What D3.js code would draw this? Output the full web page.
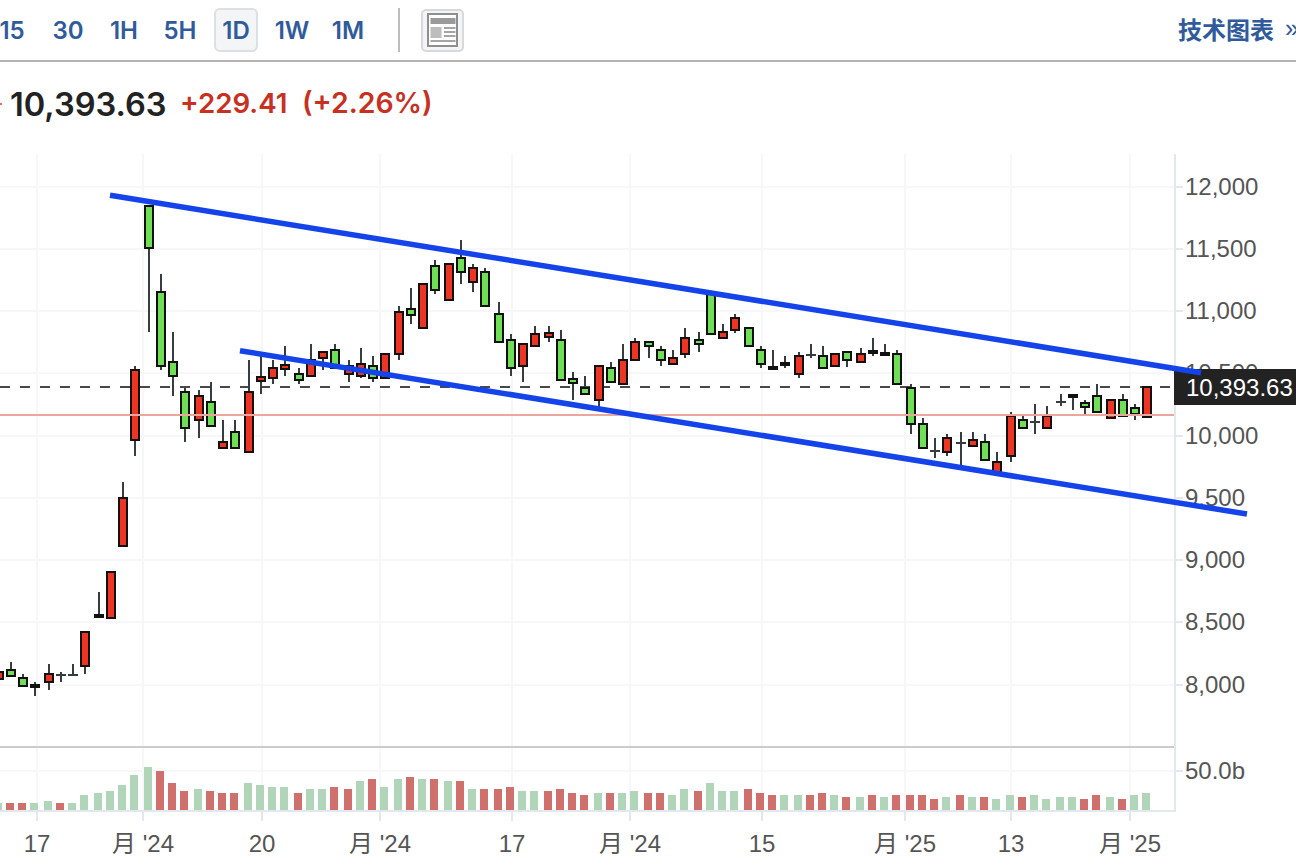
<!DOCTYPE html>
<html>
<head>
<meta charset="utf-8">
<style>
  html, body { margin: 0; padding: 0; background: #fff; overflow: hidden; }
  svg { display: block; font-family: "Liberation Sans", "Noto Sans CJK SC", sans-serif; }
</style>
<script src="https://cdn.jsdelivr.net/npm/d3@7/dist/d3.min.js"></script>
</head>
<body>
<div id="chart"></div>
<script>
// candles, oldest first (red = up, green = down)
var opens = [8046,8118,8054,7998,8022,8078,8078,8150,8560,8536,9114,9965,11845,11154,10592,10351,10126,10271,9901,10030,
  9869,10439,10464,10536,10496,10480,10624,10688,10496,10480,10560,10464,10656,11018,10865,11363,11090,11427,11235,11315,
  10978,10769,10560,10720,10793,10769,10455,10383,10287,10544,10415,10608,10753,10688,10576,10656,10769,11138,10785,10849,
  10865,10688,10552,10584,10496,10648,10640,10560,10672,10592,10680,10664,10656,10383,10094,9877,9869,9941,9917,9949,
  9708,9837,10126,10110,10062,10271,10327,10263,10319,10142,10287,10223,10150];
var highs = [8126,8182,8086,8022,8166,8102,8166,8423,8745,8905,9628,10560,11845,11299,10833,10383,10367,10431,10126,10126,
  10608,10640,10608,10720,10544,10737,10672,10737,10608,10704,10640,10656,11042,11186,11218,11411,11379,11572,11379,11347,
  11074,10817,10737,10881,10881,10849,10512,10480,10560,10592,10737,10785,10753,10720,10688,10865,10833,11138,10897,10978,
  10865,10720,10688,10640,10672,10737,10720,10656,10672,10704,10785,10737,10688,10415,10142,9982,10014,10030,10030,10014,
  9869,10190,10158,10255,10239,10335,10327,10287,10415,10287,10335,10255,10393.63];
var lows = [8038,8070,7990,7909,7957,8022,8078,8086,8544,8536,9114,9837,10833,10528,10319,9949,9982,10070,9901,9901,
  9869,10335,10415,10480,10415,10480,10528,10544,10431,10464,10431,10464,10608,10897,10865,11138,11090,11218,11154,11042,
  10753,10480,10431,10720,10753,10447,10287,10335,10231,10431,10415,10608,10624,10560,10576,10624,10672,10817,10785,10825,
  10720,10544,10536,10544,10464,10624,10544,10560,10552,10592,10640,10648,10415,10014,9901,9821,9837,9765,9917,9805,
  9700,9789,10062,10014,10062,10239,10206,10174,10190,10142,10158,10126,10150];
var closes = [8102,8070,7990,7982,8086,8078,8078,8423,8544,8905,9500,10528,11508,10560,10480,10062,10319,10078,9949,9901,
  10351,10472,10544,10568,10447,10608,10672,10544,10560,10576,10464,10656,10994,10970,11218,11170,11379,11315,11347,11042,
  10753,10544,10737,10817,10825,10447,10423,10335,10560,10431,10608,10753,10720,10608,10624,10785,10737,10817,10833,10945,
  10720,10576,10536,10568,10640,10648,10544,10656,10608,10656,10664,10648,10415,10094,9901,9877,9982,9941,9965,9805,
  9789,10158,10062,10110,10158,10271,10311,10231,10190,10287,10158,10174,10393.63];

// volume in billions, 1 = red bar, 0 = green bar
var volumes = [8.9,8.9,8.9,8.9,11.4,8.9,8.9,19.1,21.6,24.2,31.8,44.5,54.7,49.6,34.3,24.2,26.7,24.2,21.6,21.6,
  34.3,31.8,29.3,29.3,21.6,26.7,26.7,29.3,26.7,36.9,39.4,29.3,39.4,42,39.4,39.4,36.9,36.9,26.7,26.7,
  26.7,29.3,24.2,24.2,24.2,26.7,21.6,19.1,21.6,21.6,21.6,24.2,21.6,21.6,19.1,26.7,24.2,34.3,24.2,24.2,
  26.7,21.6,19.1,19.1,19.1,19.1,21.6,19.1,16.5,16.5,19.1,16.5,19.1,19.1,19.1,14,16.5,19.1,16.5,16.5,
  14,19.1,16.5,19.1,14,16.5,16.5,14,19.1,16.5,14,19.1,21.6];
var volumeUp = [0,1,1,0,0,1,0,0,0,0,0,0,0,1,1,1,0,1,1,1,
  0,0,0,0,1,0,0,1,1,0,1,0,0,1,0,1,0,1,0,1,
  1,1,0,0,1,1,1,1,0,1,0,0,1,1,0,0,1,0,0,0,
  1,1,1,0,0,1,1,0,1,0,1,0,1,1,1,1,0,1,0,1,
  0,0,1,0,0,0,0,1,1,0,1,0,0];

var priceTicks = [8000,8500,9000,9500,10000,10500,11000,11500,12000];
var timeTickIndex = [3,11.5,21,30.5,41,50.5,61,72.5,81,90.5];
var timeTickLabels = ['17',"月 '24",'20',"月 '24",'17',"月 '24",'15',"月 '25",'13',"月 '25"];
var volumeTicks = [50];

var lastPrice = 10393.63, prevClose = 10164.22;

// hand drawn channel: [candle index, price]
var upperTrend = [[8.86,11931],[96.17,10506]];
var lowerTrend = [[19.26,10683],[99.85,9371]];

var intervals = [['15',12],['30',68],['1H',124],['5H',180],['1D',236],['1W',292],['1M',348]];

var width = 1296, height = 868;
var plotRight = 1175, plotTop = 154, volBase = 810;

var svg = d3.select('#chart').append('svg')
  .attr('width', width)
  .attr('height', height);

// ---- scales
var x = d3.scaleLinear().domain([0,92]).range([0.33,1149.87]);
// bars snap to even pixels like the source does
function cx(i) { return 2 * Math.floor(x(i) / 2) - 1; }
var xLine = function(i) { return x(i) - 1; };
var xTick = d3.scaleLinear().domain([0,92]).range([-0.67,1148.87]).interpolate(d3.interpolateRound);

var y = d3.scaleLinear().domain([8000,12000]).range([684.7,186.7]);
var yTick = y.copy().interpolate(d3.interpolateRound);
var yVol = d3.scaleLinear().domain([0,50]).range([volBase,770.7]);
var yVolTick = yVol.copy().interpolate(d3.interpolateRound);

var gridColor = '#f7f7f9', axisColor = '#e4e7ee', wickColor = '#363c40';

// ---- toolbar
var bar = svg.append('g');
bar.append('rect').attr('x',215).attr('y',9).attr('width',42).attr('height',42).attr('rx',5)
  .attr('fill','#f4f5f7').attr('stroke','#dcdfe3').attr('stroke-width',2);
bar.selectAll('text.iv').data(intervals).enter().append('text')
  .attr('class','iv')
  .attr('x', function(d) { return d[1]; })
  .attr('y', 39)
  .attr('text-anchor','middle')
  .attr('font-size',24)
  .attr('font-weight',600)
  .attr('font-family','Inter')
  .attr('fill','#2f5b9c')
  .text(function(d) { return d[0]; });
bar.append('rect').attr('x',398).attr('y',8).attr('width',2).attr('height',44).attr('fill','#bdbdbd');

// layout icon
var icon = bar.append('g').attr('transform','translate(421,9)');
icon.append('rect').attr('x',1).attr('y',1).attr('width',41).attr('height',41).attr('rx',4)
  .attr('fill','#f4f5f7').attr('stroke','#d9d9d9').attr('stroke-width',2);
icon.append('rect').attr('x',7).attr('y',5).attr('width',29).attr('height',32)
  .attr('fill','#fff').attr('stroke','#8f8f8f').attr('stroke-width',2);
icon.append('rect').attr('x',9.5).attr('y',9).attr('width',25).attr('height',6).attr('fill','#9a9a9a');
icon.append('rect').attr('x',9.5).attr('y',18).attr('width',11).attr('height',11).attr('fill','#bdbdbd');
[18,22,26,31].forEach(function(v, k) {
  icon.append('rect').attr('x',k < 3 ? 23 : 9.5).attr('y',v)
    .attr('width',k < 3 ? 11.5 : 25).attr('height',2).attr('fill','#a5a5a5');
});

bar.append('text').attr('x',1178).attr('y',39).attr('font-size',24).attr('font-weight',700)
  .attr('fill','#2f5b9c').attr('font-family','"Noto Sans CJK SC"').text('技术图表');
bar.append('text').attr('x',1285).attr('y',37).attr('font-size',25)
  .attr('fill','#2f5b9c').text('»');
bar.append('rect').attr('x',0).attr('y',60).attr('width',width).attr('height',2).attr('fill','#b4b4b4');

// ---- quote line
svg.append('rect').attr('x',0).attr('y',103).attr('width',2).attr('height',2).attr('fill','#d8705f');
svg.append('text').attr('x',10).attr('y',116).attr('font-size',32.6).attr('font-weight',600)
  .attr('font-family','Inter').attr('fill','#222').text('10,393.63');
svg.append('text').attr('x',180).attr('y',113).attr('font-size',27.7).attr('font-weight',600)
  .attr('font-family','Inter').attr('fill','#c8301f').text('+229.41');
svg.append('text').attr('x',302).attr('y',113).attr('font-size',28.4).attr('font-weight',600)
  .attr('font-family','Inter').attr('fill','#c8301f').text('(+2.26%)');

// ---- grid
var grid = svg.append('g');
grid.selectAll('rect.gx').data(timeTickIndex).enter().append('rect')
  .attr('class','gx')
  .attr('x', function(d) { return xTick(d) - 1; })
  .attr('y', plotTop).attr('width',2).attr('height',volBase - plotTop)
  .attr('fill',gridColor);
grid.selectAll('rect.gy').data(priceTicks).enter().append('rect')
  .attr('class','gy')
  .attr('x',0).attr('y', function(d) { return yTick(d) - 1; })
  .attr('width',plotRight).attr('height',2)
  .attr('fill',gridColor);
grid.selectAll('rect.gv').data(volumeTicks).enter().append('rect')
  .attr('class','gv')
  .attr('x',0).attr('y', function(d) { return yVolTick(d) - 1; })
  .attr('width',plotRight).attr('height',2)
  .attr('fill',gridColor);

// ---- last price dashed line, behind the candles
svg.append('line')
  .attr('x1',0).attr('x2',1170)
  .attr('y1',Math.round(y(lastPrice))).attr('y2',Math.round(y(lastPrice)))
  .attr('stroke','#484848').attr('stroke-width',2).attr('stroke-dasharray','10,10');

// ---- candles
var candles = d3.range(opens.length);
var g = svg.append('g');
g.selectAll('line.wick').data(candles).enter().append('line')
  .attr('class','wick')
  .attr('x1',cx).attr('x2',cx)
  .attr('y1', function(i) { return Math.round(y(highs[i])); })
  .attr('y2', function(i) { return Math.round(y(lows[i])); })
  .attr('stroke',wickColor).attr('stroke-width',2);

// open == close is just a thin dash
g.selectAll('line.flat').data(candles.filter(function(i) { return opens[i] === closes[i]; })).enter().append('line')
  .attr('class','flat')
  .attr('x1', function(i) { return cx(i) - 5; })
  .attr('x2', function(i) { return cx(i) + 5; })
  .attr('y1', function(i) { return Math.round(y(opens[i])); })
  .attr('y2', function(i) { return Math.round(y(opens[i])); })
  .attr('stroke',wickColor).attr('stroke-width',2);

g.selectAll('rect.body').data(candles.filter(function(i) { return opens[i] !== closes[i]; })).enter().append('rect')
  .attr('class','body')
  .attr('x', function(i) { return cx(i) - 4; })
  .attr('width',8)
  .attr('y', function(i) { return Math.round(y(Math.max(opens[i],closes[i]))); })
  .attr('height', function(i) {
    return Math.round(y(Math.min(opens[i],closes[i]))) - Math.round(y(Math.max(opens[i],closes[i])));
  })
  .attr('fill', function(i) { return closes[i] > opens[i] ? '#ee3524' : '#6fe055'; })
  .attr('stroke','#111').attr('stroke-width',2);

// previous close, thin red line on top
svg.append('line')
  .attr('x1',0).attr('x2',plotRight - 1)
  .attr('y1',Math.round(y(prevClose))).attr('y2',Math.round(y(prevClose)))
  .attr('stroke','#e9a79d').attr('stroke-width',2);

// ---- volume
svg.append('g').selectAll('rect').data(candles).enter().append('rect')
  .attr('x', function(i) { return cx(i) - 5; })
  .attr('width',8)
  .attr('y', function(i) { return Math.round(yVol(volumes[i])); })
  .attr('height', function(i) { return volBase - Math.round(yVol(volumes[i])); })
  .attr('fill', function(i) { return volumeUp[i] ? '#cf706c' : '#b1d5b8'; });

svg.append('rect').attr('x',0).attr('y',746).attr('width',plotRight).attr('height',2).attr('fill','#cbcbcb');

// ---- axes
var yAxis = d3.axisRight(yTick)
  .tickValues(priceTicks)
  .tickFormat(d3.format(','))
  .tickSize(8).tickPadding(2).offset(0);
var yAxisG = svg.append('g').attr('transform','translate(' + plotRight + ',0)').call(yAxis);

var volAxis = d3.axisRight(yVolTick)
  .tickValues(volumeTicks)
  .tickFormat(function(d) { return d.toFixed(1) + 'b'; })
  .tickSize(8).tickPadding(2).offset(0);
var volAxisG = svg.append('g').attr('transform','translate(' + plotRight + ',0)').call(volAxis);

var xAxis = d3.axisBottom(xTick)
  .tickValues(timeTickIndex)
  .tickFormat(function(d, k) { return timeTickLabels[k]; })
  .tickSize(11).tickPadding(14).offset(0);
var xAxisG = svg.append('g').attr('transform','translate(0,' + volBase + ')').call(xAxis);

[yAxisG, volAxisG, xAxisG].forEach(function(a) {
  a.select('.domain').remove();
  a.selectAll('.tick line').attr('stroke',axisColor).attr('stroke-width',2);
  a.selectAll('.tick text').attr('font-size',24).attr('fill','#555').attr('font-family','"Liberation Sans","Noto Sans CJK SC",sans-serif');
});

svg.append('rect').attr('x',plotRight - 1).attr('y',plotTop).attr('width',2).attr('height',volBase - plotTop + 2).attr('fill',axisColor);
svg.append('rect').attr('x',0).attr('y',volBase).attr('width',plotRight).attr('height',2).attr('fill',axisColor);

// ---- last price tag
svg.append('rect').attr('x',1174).attr('y',369).attr('width',122).attr('height',36).attr('fill','#222');
svg.append('text').attr('x',1186).attr('y',396).attr('font-size',24).attr('fill','#fff').text('10,393.63');

// ---- channel lines go on top of everything
var trend = d3.line()
  .x(function(d) { return xLine(d[0]); })
  .y(function(d) { return y(d[1]); });
svg.selectAll('path.trend').data([upperTrend,lowerTrend]).enter().append('path')
  .attr('class','trend')
  .attr('d',trend)
  .attr('fill','none')
  .attr('stroke','#1443ea')
  .attr('stroke-width',5.5);
</script>
</body>
</html>
